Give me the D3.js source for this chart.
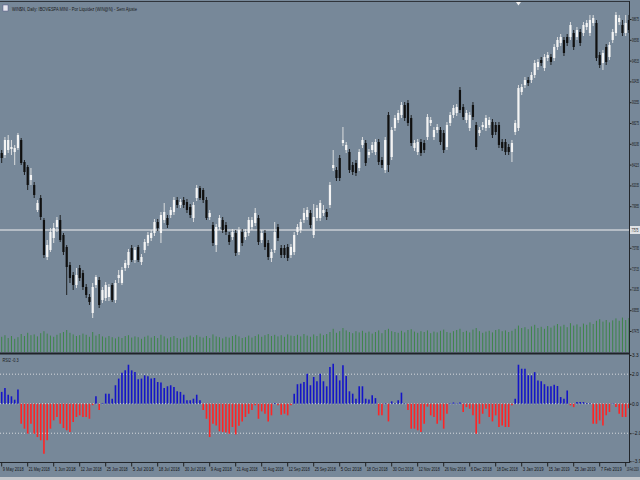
<!DOCTYPE html>
<html>
<head>
<meta charset="utf-8">
<script src="https://cdn.jsdelivr.net/npm/d3@7"></script>
<style>
  body { margin: 0; background: #778899; }
  svg { display: block; font-family: "Liberation Sans Narrow", "Liberation Sans", "DejaVu Sans", sans-serif; }
</style>
</head>
<body>
<svg id="chart" width="640" height="480"></svg>
<script>
// daily bars, 9 May 2018 .. 20 Feb 2019
const opens = [
  85275,85075,85575,85675,85375,85775,86575,84375,83875,82575,
  82075,79575,80775,78575,74875,75575,76775,77875,78575,77075,
  75875,74075,73075,72075,73775,73275,71875,70875,69275,72075,
  72575,70575,70775,70875,72075,70575,72775,72275,73775,74075,
  75775,74575,75875,74375,75575,76275,76775,77275,78375,77275,
  78575,78775,79075,79375,80575,80075,80575,80375,79875,78775,
  80775,81775,81575,80575,78875,78075,76075,77875,78575,78075,
  77075,76875,77275,75375,77375,76875,77275,77875,78275,78775,
  76575,77275,76275,74775,75575,77875,75775,75775,75875,75075,
  75375,77375,77575,78575,78875,79275,77075,78775,78775,79275,
  79375,80075,83775,83575,84775,86275,85575,85375,84075,84275,
  83775,86075,86275,85075,85575,85375,86375,84575,83575,89075,
  84875,87775,88575,89075,90075,90275,88775,85775,85375,86375,
  86275,86875,88275,86875,87575,87575,87275,85875,88275,89075,
  89275,91575,89875,88575,87775,90075,88075,87275,87875,87775,
  88075,88375,88075,88075,86375,86375,85875,85375,87375,87775,
  91375,92075,92575,92575,93075,93875,94575,93775,94775,94875,
  94775,95875,96275,96575,96875,96875,97275,96875,97375,97275,
  97875,97275,98275,98275,95075,94275,95875,94875,96575,97275,
  98375,98075,97275,98575
];
const highs = [
  85575,86875,87075,86575,86075,87275,86775,84575,84075,83775,
  82375,80575,81075,78775,76575,77775,78275,78875,79075,77275,
  76075,74375,73375,73775,74075,73575,72175,71175,72275,73075,
  72875,71875,72375,72175,72275,72575,73575,73875,74575,75675,
  76075,75875,76075,75175,76675,77375,77575,78675,78675,79375,
  80275,79075,79875,80875,80875,80675,80875,80675,80175,80375,
  82075,81975,81775,80875,79575,78375,78175,79075,78875,78375,
  77375,77675,77575,77875,77675,77675,78875,78875,79775,79075,
  77575,77575,76575,75675,78375,78175,76075,76075,76175,76175,
  77375,78175,78675,79775,79875,79575,80175,80075,80575,80075,
  79675,82375,85575,83875,85075,87875,86375,85675,84375,84575,
  85675,86875,86575,85675,86375,86675,86675,84875,86875,89375,
  87875,89075,89575,90375,90375,90575,89075,86575,86675,86675,
  86575,89175,88875,87875,88175,87875,87575,88375,89375,90075,
  90175,91875,90175,89575,89375,90375,88375,87875,88375,89075,
  88875,88675,88375,88375,86675,86675,86175,86575,88575,92075,
  92175,92875,92875,93375,94575,94675,94875,95175,95375,95175,
  96175,96875,97175,96875,97175,98375,97575,97875,97675,98375,
  98575,99075,99075,98575,95375,95575,96175,96375,97675,99375,
  99075,98575,99075,99075
];
const lows = [
  84275,84775,85275,85075,84075,85575,84075,83075,81575,82075,
  80775,79375,78575,74775,74575,75375,76275,77375,76375,75075,
  71075,72275,71575,71775,72475,71575,70775,70075,68775,71775,
  69775,70275,70475,70475,70375,70275,72275,72075,73475,73775,
  74375,74275,74375,74075,75275,75975,76475,76975,77475,76275,
  78275,77775,78775,79075,79775,79775,79775,79275,78775,78375,
  80475,80575,80275,78575,78575,75975,75375,77575,77275,77075,
  76075,76575,74975,75075,75975,76575,76975,77575,77975,76075,
  76275,75575,74575,74375,75275,76475,74775,74775,74475,74775,
  75075,77075,77275,78275,78575,77775,76775,78475,78475,78975,
  78575,79775,83475,82475,82475,85975,85275,83275,83075,82975,
  83475,85775,83975,84775,85275,85075,84075,83775,83275,83375,
  84575,87475,88275,88775,88475,87975,85975,85475,85075,84975,
  85275,86575,87975,86575,87275,86075,85275,85575,87975,88775,
  88975,89275,88575,88275,87475,88575,85575,86975,87575,87475,
  87775,86775,87075,85775,85475,85075,85075,84375,87075,87475,
  91075,91775,91975,92275,92775,93575,93975,93475,94475,94075,
  94475,95575,95975,94975,95975,96575,95575,96575,95975,96975,
  97575,96975,97975,94475,93775,93575,94075,94575,96275,96975,
  98075,96975,96975,97275
];
const closes = [
  84775,86575,86575,85875,85775,87075,84275,83375,82075,83075,
  81075,80275,78875,75075,76075,77375,77775,78575,76575,75375,
  73875,72775,72075,73075,72775,71875,71075,70375,71875,72875,
  70075,71575,72075,71875,70575,72275,73075,73575,74275,75375,
  74575,75575,74575,74875,76375,77075,77275,78375,77775,79075,
  79375,78075,79575,80575,80075,80375,80075,79575,79075,80075,
  81775,80775,80575,78775,79275,76275,77875,78775,77575,77375,
  76375,77375,75275,77575,76275,77375,78575,78575,79275,76375,
  77275,75875,74875,75375,77375,76775,75075,75075,74775,75875,
  77075,77875,78375,79275,79575,78075,78875,79775,80275,79575,
  78875,82075,84075,82775,82775,86575,86075,83575,83375,83275,
  85375,86575,84275,85375,86075,86375,84375,84075,86575,84075,
  87575,88775,89275,90075,88775,88275,86275,86275,86375,85275,
  85575,88875,88575,87575,87875,86375,85575,88075,89075,89775,
  89875,89575,88875,89275,89075,88875,85875,87575,88075,88775,
  88575,87075,87375,86075,85775,85375,85375,86275,88275,91775,
  91875,92575,92275,93075,94275,94375,94275,94875,95075,94375,
  95875,96575,96875,95275,96275,98075,95875,97575,96275,98075,
  98275,98575,98775,94775,94075,95275,94375,96075,97375,99075,
  98775,97275,98275,97575
];
const volumes = [
  38,42,35,40,33,37,45,40,48,42,
  44,39,47,52,46,41,38,43,47,50,
  55,48,44,40,42,46,43,38,50,41,
  45,39,36,40,37,34,38,35,40,42,
  36,39,37,33,38,41,36,40,35,43,
  39,34,37,40,35,33,36,38,41,37,
  42,38,36,40,35,44,39,37,34,38,
  36,40,43,39,35,37,41,36,40,44,
  38,42,45,40,43,39,42,38,44,41,
  40,43,39,45,41,38,44,40,46,42,
  45,50,58,48,52,60,54,50,47,52,
  49,53,48,51,46,50,54,47,55,58,
  52,50,48,53,49,55,57,51,48,52,
  50,54,47,51,49,53,56,50,48,52,
  55,58,50,53,49,56,60,52,48,51,
  53,49,55,57,52,54,50,53,58,66,
  60,62,57,64,68,60,63,58,65,61,
  66,70,64,68,62,72,66,69,63,71,
  68,74,70,78,82,76,80,74,79,84,
  78,86,80,85
];
const oscValues = [
  0.80,1.06,0.61,0.50,0.27,0.97,
  -1.36,-1.69,-2.03,-1.36,-2.03,-2.26,-2.48,-3.39,-2.48,-1.69,-1.13,-0.90,-1.36,-1.65,-1.80,-1.92,-1.24,-0.90,-0.79,-0.90,-0.90,-1.02,
  -0.10,0.50,-0.43,0.05,
  0.68,0.68,0.34,1.25,1.70,2.10,2.26,2.64,2.26,2.14,1.65,1.70,1.92,1.86,1.70,1.74,1.47,1.43,1.06,1.18,1.25,1.13,0.84,0.80,0.61,0.23,0.23,0.34,0.61,0.23,
  -0.43,-1.02,-2.26,-1.36,-1.47,-1.87,-1.92,-1.95,-2.03,-1.58,-2.08,-1.50,-1.20,-0.90,-0.68,-0.43,-0.11,-1.02,-0.52,-0.68,-1.20,-0.79,0.05,-0.11,-0.75,-0.68,-0.79,-0.11,
  0.68,1.32,1.36,1.47,2.03,1.25,1.81,1.52,2.03,
  1.52,1.18,2.49,2.71,1.92,1.58,2.60,1.88,0.84,0.68,0.34,1.18,1.18,0.34,0.29,0.57,0.38,
  -0.79,-0.79,0.03,-1.20,0.16,0.03,0.23,0.75,0.03,
  -0.43,-1.69,-1.69,-1.80,-1.92,-1.36,-0.20,-0.79,-0.90,-1.36,-1.13,-1.69,-0.68,
  0.03,0.08,0.03,0.08,
  -0.56,-0.23,-0.34,-0.79,-2.03,-1.36,-0.68,-0.34,-0.90,-1.20,-0.79,-1.58,-1.47,-1.58,-1.58,-0.10,
  0.34,2.64,2.37,2.37,1.92,1.92,2.14,1.58,1.52,1.32,1.18,1.18,1.29,1.20,0.45,0.34,0.90,
  -0.11,-0.23,0.11,0.11,0.11,0.05,0.03,
  -1.36,-1.36,-1.13,-1.47,-0.79,-0.56,
  0.03,-0.23,-0.68,-0.90,-0.90,-0.30
];
const dateLabels = [
  "9 May 2018","21 May 2018","1 Jun 2018","12 Jun 2018","25 Jun 2018","5 Jul 2018",
  "18 Jul 2018","30 Jul 2018","9 Aug 2018","21 Aug 2018","31 Aug 2018","12 Sep 2018",
  "25 Sep 2018","5 Oct 2018","18 Oct 2018","30 Oct 2018","12 Nov 2018","26 Nov 2018",
  "6 Dec 2018","18 Dec 2018","3 Jan 2019","15 Jan 2019","25 Jan 2019","7 Feb 2019","19 Feb 2019"
];
const labelEvery = 8;
const priceTicks = [98675,96595,94515,92435,90355,88275,86195,84115,82035,79955,75795,73715,71635,69555,67475];
const oscTicks = [3.3, 2.0, 0.0, -2.0, -3.9];
const oscLevels = [2.0, 0.0, -2.0];
const currentPrice = 77575;
const markerBar = 159;
const chartTitle = "WIN$N, Daily:  IBOVESPA MINI - Por Liquidez (WIN@N) - Sem Ajuste";
const oscTitle = "RSI2 -0.3";

const W = 640, H = 480;
const plotRight = 629;
const mainTop = 2, mainBottom = 352;
const subTop = 355, subBottom = 462;

const svg = d3.select('#chart');
svg.append('rect').attr('width', W).attr('height', H).attr('fill', '#778899');

const defs = svg.append('defs');
defs.append('clipPath').attr('id', 'clipMain').append('rect')
    .attr('x', 0).attr('y', mainTop).attr('width', plotRight).attr('height', mainBottom - mainTop);
defs.append('clipPath').attr('id', 'clipSub').append('rect')
    .attr('x', 0).attr('y', subTop).attr('width', plotRight).attr('height', subBottom - subTop);

// scales
const idx = d3.range(closes.length);
const x = d3.scaleBand().domain(idx).range([0.075, 0.075 + 3.25 * idx.length]).padding(0);
const cx = i => x(i) + x.bandwidth() / 2;
const y = d3.scaleLinear().domain([65375, 100575]).range([mainBottom, 0]);
const yVol = d3.scaleLinear().domain([0, 100]).range([mainBottom, 312]);
const yOsc = d3.scaleLinear().domain([-3.95, 3.3]).range([subBottom, subTop]);

// volumes
const main = svg.append('g').attr('clip-path', 'url(#clipMain)');
main.append('g').selectAll('line')
    .data(idx)
    .join('line')
    .attr('x1', i => cx(i)).attr('x2', i => cx(i))
    .attr('y1', mainBottom).attr('y2', i => yVol(volumes[i]))
    .attr('stroke', '#3d8549').attr('stroke-width', 1);

// current price line
main.append('line')
    .attr('x1', 0).attr('x2', plotRight)
    .attr('y1', y(currentPrice)).attr('y2', y(currentPrice))
    .attr('stroke', '#c9ced4').attr('stroke-width', 1.5);

// candles
const candle = main.append('g').selectAll('g')
    .data(idx)
    .join('g');
candle.append('line')
    .attr('x1', i => cx(i)).attr('x2', i => cx(i))
    .attr('y1', i => y(highs[i])).attr('y2', i => y(lows[i]))
    .attr('stroke', i => closes[i] >= opens[i] ? '#e6e6e6' : '#141414')
    .attr('stroke-width', 0.9);
candle.append('rect')
    .attr('x', i => cx(i) - 1.1)
    .attr('width', 2.2)
    .attr('y', i => y(Math.max(opens[i], closes[i])))
    .attr('height', i => Math.max(1, Math.abs(y(opens[i]) - y(closes[i]))))
    .attr('fill', i => closes[i] >= opens[i] ? '#f4f4f4' : '#101010');

// top marker
svg.append('path')
    .attr('d', `M${cx(markerBar) - 2.5},2 L${cx(markerBar) + 2.5},2 L${cx(markerBar)},5.5 Z`)
    .attr('fill', '#f0f0f0');

// oscillator window
const sub = svg.append('g').attr('clip-path', 'url(#clipSub)');
sub.append('g').selectAll('line')
    .data(oscLevels)
    .join('line')
    .attr('x1', 0).attr('x2', plotRight)
    .attr('y1', d => yOsc(d)).attr('y2', d => yOsc(d))
    .attr('stroke', '#d6d9dd').attr('stroke-width', 1)
    .attr('stroke-dasharray', '1,2');
sub.append('g').selectAll('line')
    .data(idx)
    .join('line')
    .attr('x1', i => cx(i)).attr('x2', i => cx(i))
    .attr('y1', yOsc(0)).attr('y2', i => yOsc(oscValues[i]))
    .attr('stroke', i => oscValues[i] >= 0 ? '#1414c8' : '#ff2424')
    .attr('stroke-width', 1.6);

// frame lines
svg.append('line').attr('x1', 0).attr('x2', plotRight).attr('y1', 1.5).attr('y2', 1.5)
    .attr('stroke', '#2f343b').attr('stroke-width', 1);
svg.append('line').attr('x1', 0).attr('x2', plotRight).attr('y1', 353.5).attr('y2', 353.5)
    .attr('stroke', '#1f2328').attr('stroke-width', 2);

// right price axis
const yAxis = svg.append('g')
    .attr('transform', `translate(${plotRight + 0.5},0)`)
    .call(d3.axisRight(y).tickValues(priceTicks).tickSize(2).tickPadding(0.5).tickFormat(d3.format('d')));
yAxis.select('.domain').remove();
yAxis.selectAll('line').attr('stroke', '#202020');
yAxis.selectAll('text').attr('fill', '#151515').attr('font-size', 4.8)
    .attr('textLength', 7).attr('lengthAdjust', 'spacingAndGlyphs');

// current price label
const priceLabel = svg.append('g').attr('transform', `translate(${plotRight + 1},${y(currentPrice)})`);
priceLabel.append('rect').attr('x', 0).attr('y', -4).attr('width', 10.5).attr('height', 8).attr('fill', '#dfe2e5');
priceLabel.append('text').attr('x', 1.5).attr('y', 1.8).attr('font-size', 4.8).attr('fill', '#1a1a1a')
    .attr('textLength', 7).attr('lengthAdjust', 'spacingAndGlyphs')
    .text(d3.format('d')(currentPrice));

// oscillator axis
const oAxis = svg.append('g')
    .attr('transform', `translate(${plotRight + 0.5},0)`)
    .call(d3.axisRight(yOsc).tickValues(oscTicks).tickSize(2).tickPadding(0.5).tickFormat(d3.format('.1f')));
oAxis.select('.domain').remove();
oAxis.selectAll('line').attr('stroke', '#202020');
oAxis.selectAll('text').attr('fill', '#151515').attr('font-size', 4.8);

// vertical axis line
svg.append('line').attr('x1', plotRight + 0.5).attr('x2', plotRight + 0.5).attr('y1', 1).attr('y2', subBottom + 1)
    .attr('stroke', '#22262b').attr('stroke-width', 1);

// time axis
const xAxis = svg.append('g')
    .attr('transform', `translate(0,${subBottom + 0.5})`)
    .call(d3.axisBottom(x)
        .tickValues(idx.filter(i => i % labelEvery === 0))
        .tickSize(4)
        .tickFormat(i => dateLabels[i / labelEvery]));
xAxis.select('.domain').attr('d', `M0,0H${plotRight}`).attr('stroke', '#22262b');
xAxis.selectAll('line').attr('stroke', '#202020');
xAxis.selectAll('text')
    .attr('text-anchor', 'start').attr('x', 1).attr('y', 4.5).attr('dy', '0.7em')
    .attr('fill', '#151515').attr('font-size', 5)
    .attr('textLength', 21).attr('lengthAdjust', 'spacingAndGlyphs');
// the last label is cut by the window edge in the reference
xAxis.selectAll('.tick').filter(i => i === idx.length - 2).select('text').attr('textLength', 12);

svg.append('rect').attr('x', 0).attr('y', 477).attr('width', W).attr('height', 3).attr('fill', '#c4c7cb');

// titles
svg.append('rect').attr('x', 3).attr('y', 5).attr('width', 5).attr('height', 6).attr('fill', '#e8e8ef').attr('stroke', '#5a5a8a').attr('stroke-width', 0.5);
svg.append('text').attr('x', 12).attr('y', 10.5).attr('font-size', 5.5).attr('fill', '#1a1a1a')
    .attr('textLength', 125).attr('lengthAdjust', 'spacingAndGlyphs')
    .text(chartTitle);
svg.append('text').attr('x', 2.5).attr('y', 361.5).attr('font-size', 5.5).attr('fill', '#1a1a1a')
    .attr('textLength', 16).attr('lengthAdjust', 'spacingAndGlyphs')
    .text(oscTitle);
</script>
</body>
</html>
